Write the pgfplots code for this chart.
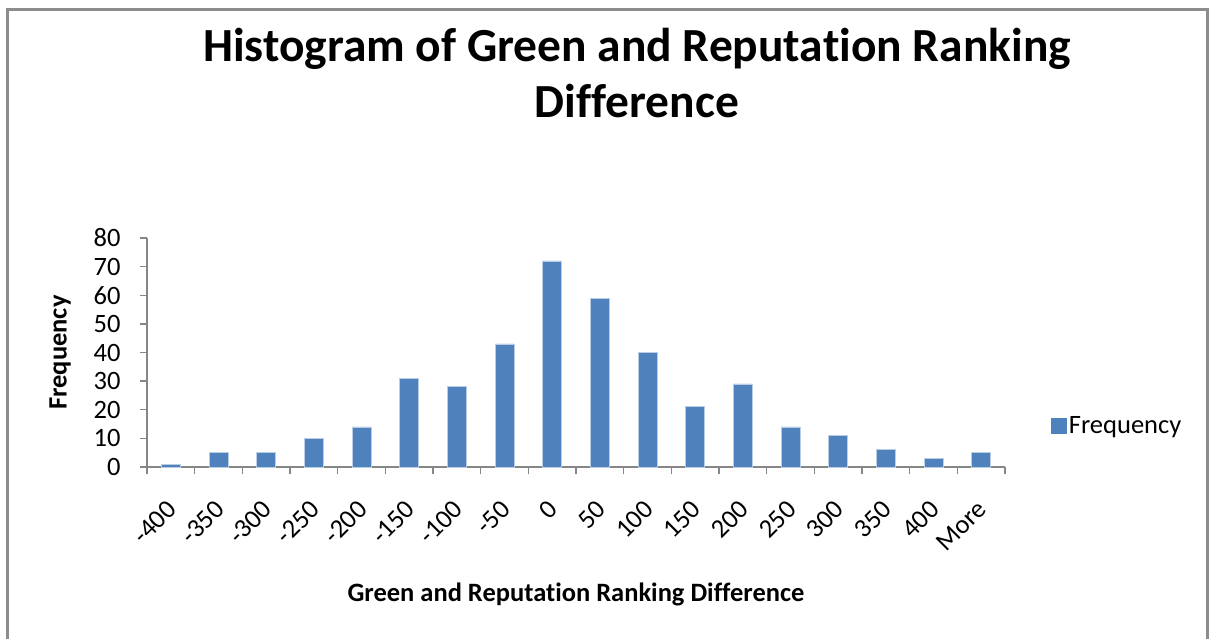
\documentclass[border=0pt]{standalone}
\usepackage{pgfplots}
\pgfplotsset{compat=1.18}
\usepackage{fontspec}
\setmainfont[Ligatures={NoCommon,NoContextual}]{Carlito}
\definecolor{barblue}{HTML}{4F81BD}
\definecolor{baredge}{HTML}{B9CDE5}
\definecolor{axisgray}{HTML}{868686}
\definecolor{framegray}{HTML}{8C8C8C}
\begin{document}
\begin{tikzpicture}[x=1pt,y=1pt]
\useasboundingbox (0,0) rectangle (1210,638);
\draw[framegray,line width=2.2pt] (7.5,-5) -- (7.5,628.5) -- (1207.5,628.5) -- (1207.5,-5);
\node[anchor=base,font=\fontsize{47.5}{56}\selectfont\bfseries] at (637,576) {Histogram of Green and Reputation Ranking};
\node[anchor=base,font=\fontsize{47.5}{56}\selectfont\bfseries] at (637,520) {Difference};
\begin{axis}[
  at={(147pt,171pt)}, anchor=south west,
  scale only axis, width=858pt, height=229pt,
  xmin=-0.5, xmax=17.5, ymin=0, ymax=80,
  ytick={0,10,...,80},
  xtick={0,...,17},
  xticklabels={-400,-350,-300,-250,-200,-150,-100,-50,0,50,100,150,200,250,300,350,400,More},
  minor xtick={-0.5,0.5,...,17.5},
  major x tick style={draw=none},
  tick align=outside,
  major tick length=7pt, minor tick length=7pt,
  tick style={axisgray, line width=1.3pt},
  axis lines*=left,
  axis line style={axisgray, line width=1.6pt},
  every tick label/.append style={font=\fontsize{26.5}{30}\selectfont},
  /pgf/number format/assume math mode=true,
  yticklabel style={xshift=-16pt},
  xticklabel style={anchor=north east, xshift=-5pt, yshift=-20pt, rotate=45},
  xlabel={Green and Reputation Ranking Difference},
  ylabel={Frequency},
  xlabel style={font=\fontsize{26.5}{30}\selectfont\bfseries, at={(rel axis cs:0.5,-0.5895)}, anchor=base},
  ylabel style={font=\fontsize{26.5}{30}\selectfont\bfseries, at={(rel axis cs:-0.1014,0.5)}, anchor=center, rotate=0},
  legend style={at={(rel axis cs:1.0535,0.179)}, anchor=west, draw=none, font=\fontsize{26.5}{30}\selectfont, inner sep=0pt, legend cell align=left},
  ybar, bar width=19pt,
]
\addplot[fill=barblue, draw=baredge, line width=0.8pt,
  legend image code/.code={\fill[barblue] (-3pt,-7.5pt) rectangle (12pt,7.5pt);}] coordinates {
(0,1) (1,5) (2,5) (3,10) (4,14) (5,31) (6,28) (7,43) (8,72) (9,59) (10,40) (11,21) (12,29) (13,14) (14,11) (15,6) (16,3) (17,5)
};
\addlegendentry{Frequency}
\end{axis}
\end{tikzpicture}
\end{document}
